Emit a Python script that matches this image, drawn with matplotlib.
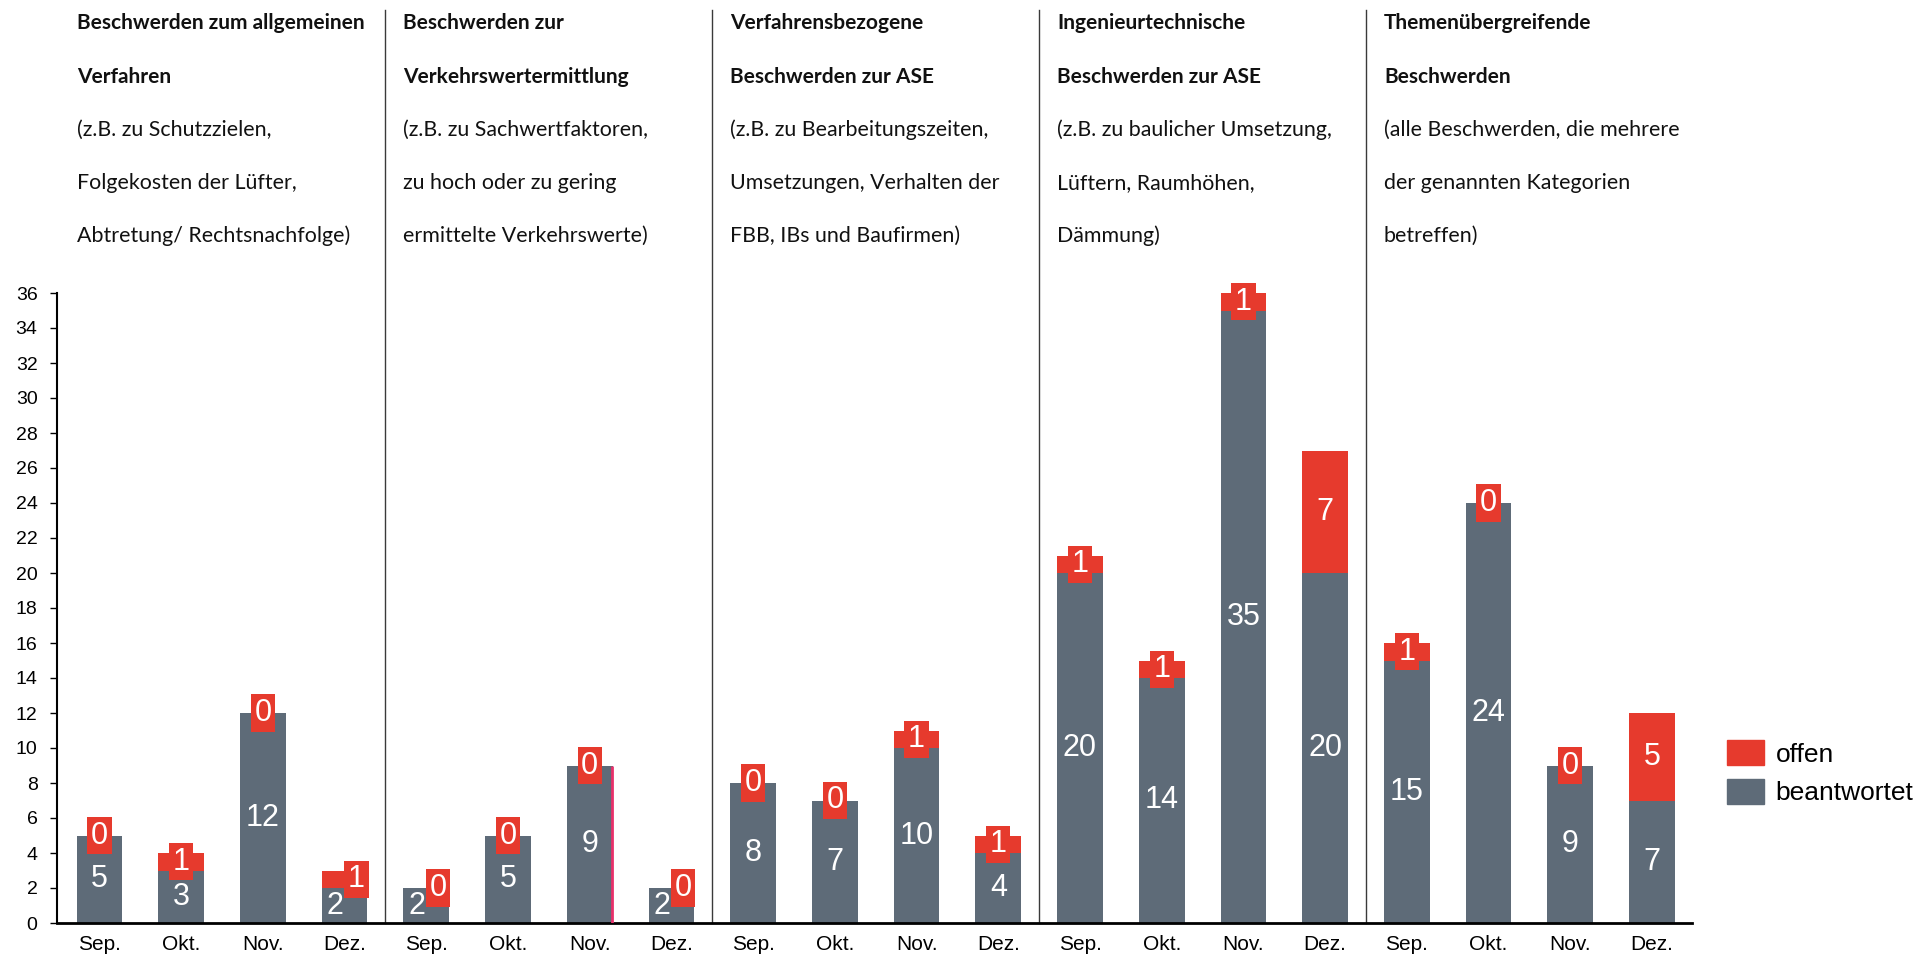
import matplotlib

matplotlib.use("Agg")
import matplotlib.pyplot as plt  # noqa: E402
import matplotlib.transforms as mtransforms  # noqa: E402
import numpy as np  # noqa: E402
from matplotlib.patches import Patch  # noqa: E402

MONTHS = ["Sep.", "Okt.", "Nov.", "Dez."]
GROUPS = 5

# answered / open complaints per group (4 months each)
BEANTWORTET = [5, 3, 12, 2,
               2, 5, 9, 2,
               8, 7, 10, 4,
               20, 14, 35, 20,
               15, 24, 9, 7]
OFFEN = [0, 1, 0, 1,
         0, 0, 0, 0,
         0, 0, 1, 1,
         1, 1, 1, 7,
         1, 0, 0, 5]

# header lines per group, first two bold
HEADERS = [
    ["Beschwerden zum allgemeinen", "Verfahren",
     "(z.B. zu Schutzzielen,", "Folgekosten der Lüfter,",
     "Abtretung/ Rechtsnachfolge)"],
    ["Beschwerden zur", "Verkehrswertermittlung",
     "(z.B. zu Sachwertfaktoren,", "zu hoch oder zu gering",
     "ermittelte Verkehrswerte)"],
    ["Verfahrensbezogene", "Beschwerden zur ASE",
     "(z.B. zu Bearbeitungszeiten,", "Umsetzungen, Verhalten der",
     "FBB, IBs und Baufirmen)"],
    ["Ingenieurtechnische", "Beschwerden zur ASE",
     "(z.B. zu baulicher Umsetzung,", "Lüftern, Raumhöhen,",
     "Dämmung)"],
    ["Themenübergreifende", "Beschwerden",
     "(alle Beschwerden, die mehrere", "der genannten Kategorien",
     "betreffen)"],
]

GREY = "#5e6b78"
RED = "#e63a2d"
NUM_FONT = "Liberation Sans"
HEAD_FONT = "Lato"
BAR_W = 0.56
NUDGED = {3, 4, 7}  # tiny bars where the two labels sit side by side

W, H = 1933, 958
fig = plt.figure(figsize=(W / 100, H / 100), dpi=100)
fig.patch.set_facecolor("white")
ax = fig.add_axes([57 / W, 1 - 923 / H, (1692 - 57) / W, (923 - 293) / H])

x = np.arange(len(BEANTWORTET))
b = np.array(BEANTWORTET)
o = np.array(OFFEN)
ax.bar(x, b, BAR_W, color=GREY, label="beantwortet", zorder=2)
ax.bar(x, o, BAR_W, bottom=b, color=RED, label="offen", zorder=2)
# stray pink edge on the Nov bar of group 2
ax.vlines(6 + BAR_W / 2 - 0.01, 0, b[6], color="#e8306a", lw=2, zorder=3)

for i in range(len(x)):
    dx_g, dx_r = (-7, 8.5) if i in NUDGED else (0, 0)
    ax.annotate(str(b[i]), (x[i], b[i] / 2), xytext=(dx_g, 0),
                textcoords="offset points", ha="center", va="center",
                color="white", fontsize=22, family=NUM_FONT, zorder=4)
    ax.annotate(str(o[i]), (x[i], b[i] + o[i] / 2), xytext=(dx_r, 0),
                textcoords="offset points", ha="center", va="center",
                color="white", fontsize=22, family=NUM_FONT, zorder=5,
                bbox=dict(boxstyle="square,pad=0.12", fc=RED, ec="none"))

ax.set_xlim(-0.52, len(x) - 0.51)
ax.set_ylim(0, 36)
ax.set_yticks(range(0, 37, 2))
ax.set_xticks(x)
ax.set_xticklabels(MONTHS * GROUPS)
ax.tick_params(axis="x", length=0, pad=9, labelsize=15)
ax.tick_params(axis="y", length=5, width=1, pad=9, labelsize=14)
for lbl in ax.get_xticklabels() + ax.get_yticklabels():
    lbl.set_family(NUM_FONT)
for side in ("top", "right"):
    ax.spines[side].set_visible(False)
ax.spines["left"].set_linewidth(1.5)
ax.spines["bottom"].set_linewidth(2)

# group dividers run from the axis up to the top of the page
for g in range(1, GROUPS):
    ax.axvline(4 * g - 0.5, ymin=0, ymax=1.45, color="#3a3a3a", lw=1,
               clip_on=False, zorder=1)

# column headers
trans = mtransforms.blended_transform_factory(ax.transData, fig.transFigure)
line_y = [23, 77, 130, 183, 236]
for g, lines in enumerate(HEADERS):
    for k, text in enumerate(lines):
        bold = k < 2
        fig.text(4 * g - BAR_W / 2, 1 - line_y[k] / H, text, transform=trans,
                 ha="left", va="center", fontsize=15 if bold else 15.4,
                 family=HEAD_FONT, fontweight="bold" if bold else "normal",
                 color="#111111")

handles = [Patch(color=RED), Patch(color=GREY)]
fig.legend(handles, ["offen", "beantwortet"], loc="upper left",
           bbox_to_anchor=(1727 / W, 1 - 740 / H), frameon=False,
           prop={"family": NUM_FONT, "size": 19}, handlelength=1.4,
           handleheight=1.1, handletextpad=0.45, labelspacing=0.45,
           borderpad=0, borderaxespad=0)

fig.savefig("out.png", dpi=100, facecolor="white")
